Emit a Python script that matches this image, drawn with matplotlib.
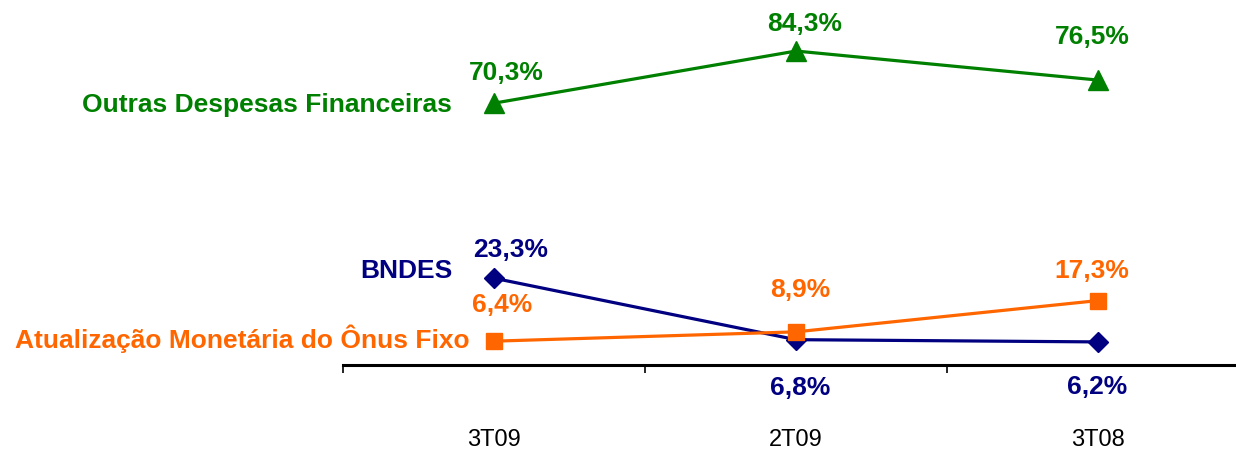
import numpy as np
import matplotlib
matplotlib.use("Agg")
import matplotlib.pyplot as plt

# ----------------------------------------------------------------------
# DATA
# ----------------------------------------------------------------------
categories = ["3T09", "2T09", "3T08"]
outras = [70.3, 84.3, 76.5]
bndes = [23.3, 6.8, 6.2]
onus = [6.4, 8.9, 17.3]

series_names = ["Outras Despesas Financeiras", "BNDES",
                "Atualização Monetária do Ônus Fixo"]

GREEN = "#008000"
NAVY = "#000080"
ORANGE = "#FF6600"

plt.rcParams["font.family"] = ["Liberation Sans", "DejaVu Sans"]

fig = plt.figure(figsize=(12.36, 4.49), dpi=100)
ax = fig.add_axes([343 / 1236, 84 / 449, (1236 - 343) / 1236, 365 / 449])

x = np.arange(len(categories))
ax.plot(x, outras, color=GREEN, lw=2.3, marker="^", ms=14, zorder=3)
ax.plot(x, bndes, color=NAVY, lw=2.3, marker="D", ms=10, zorder=3)
ax.plot(x, onus, color=ORANGE, lw=2.3, marker="s", ms=12, zorder=4)

# data labels (offsets in pixels from each point)
lab_fs = 19
off_outras = [(12, 30), (9, 27), (-6, 43)]
off_bndes = [(17, 28), (4, -48), (-1, -45)]
off_onus = [(8, 36), (4, 42), (-6, 30)]
for vals, offs, col in [(outras, off_outras, GREEN), (bndes, off_bndes, NAVY),
                        (onus, off_onus, ORANGE)]:
    for xi, v, (dx, dy) in zip(x, vals, offs):
        ax.annotate(f"{v:.1f}%".replace(".", ","), (xi, v), xytext=(dx, dy),
                    textcoords="offset pixels", ha="center", va="center",
                    fontsize=lab_fs, fontweight="bold", color=col, zorder=5)

# series names to the left of the first point
name_offs = [(-42, -2), (-42, 7), (-24, 2)]
for name, vals, (dx, dy), col in zip(series_names, [outras, bndes, onus], name_offs,
                                      [GREEN, NAVY, ORANGE]):
    ax.annotate(name, (x[0], vals[0]), xytext=(dx, dy), textcoords="offset pixels",
                ha="right", va="center", fontsize=lab_fs, fontweight="bold",
                color=col, annotation_clip=False)

ax.set_xlim(-0.5, 2.5 - 13 / 302)
ax.set_ylim(0, 98.0)

ax.set_xticks([-0.5, 0.5, 1.5])
ax.set_xticklabels([])
ax.tick_params(axis="x", which="major", direction="out", length=6, width=1.2, color="black")
ax.set_xticks(x, minor=True)
ax.set_xticklabels(categories, minor=True, fontsize=17)
ax.tick_params(axis="x", which="minor", length=0, pad=46)
ax.set_yticks([])

for s in ["left", "right", "top"]:
    ax.spines[s].set_visible(False)
ax.spines["bottom"].set_linewidth(2.2)
ax.patch.set_alpha(0)

fig.savefig("out.png", dpi=100)
